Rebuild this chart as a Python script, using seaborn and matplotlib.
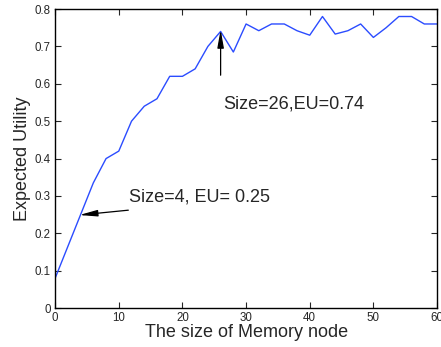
import matplotlib
matplotlib.use("Agg")
import pandas as pd
import seaborn as sns
import matplotlib.pyplot as plt

# Expected utility vs memory node size
sizes = [0, 2, 4, 6, 8, 10, 12, 14, 16, 18, 20, 22, 24, 26, 28, 30,
         32, 34, 36, 38, 40, 42, 44, 46, 48, 50, 52, 54, 56, 58, 60]
utility = [0.08, 0.165, 0.25, 0.335, 0.40, 0.42, 0.50, 0.54, 0.56, 0.62, 0.62,
           0.64, 0.70, 0.74, 0.685, 0.76, 0.742, 0.76, 0.76, 0.742, 0.73,
           0.78, 0.733, 0.742, 0.76, 0.724, 0.75, 0.78, 0.78, 0.76, 0.76]

df = pd.DataFrame({"size": sizes, "eu": utility})

sns.set_style("ticks")
plt.rcParams['font.family'] = ['Liberation Sans', 'DejaVu Sans']

fig = plt.figure(figsize=(4.41, 3.47), dpi=100)
ax = fig.add_axes([0.125, 0.112, 0.866, 0.862])

sns.lineplot(data=df, x="size", y="eu", ax=ax, color="#2b4cff", linewidth=1.0)

ax.set_xlim(0, 60)
ax.set_ylim(0, 0.8)
ax.set_xticks([0, 10, 20, 30, 40, 50, 60])
ax.set_yticks([0, 0.1, 0.2, 0.3, 0.4, 0.5, 0.6, 0.7, 0.8])
ax.set_yticklabels(["0", "0.1", "0.2", "0.3", "0.4", "0.5", "0.6", "0.7", "0.8"])
ax.tick_params(direction="in", top=True, right=True, labelsize=8.3, length=4, width=0.8, pad=3)
for s in ax.spines.values():
    s.set_linewidth(1.0)
    s.set_color("black")

ax.set_xlabel("The size of Memory node", fontsize=13, labelpad=0)
ax.set_ylabel("Expected Utility", fontsize=13, labelpad=3)

# Annotations
arrow = dict(arrowstyle="-|>,head_width=0.16,head_length=0.9",
             color="black", lw=0.9, shrinkA=0, shrinkB=0, mutation_scale=12)
ax.annotate("", xy=(26, 0.745), xytext=(26, 0.623), arrowprops=arrow)
ax.text(26.4, 0.545, "Size=26,EU=0.74", fontsize=13, ha="left", va="center")

ax.annotate("", xy=(3.8, 0.249), xytext=(11.5, 0.262), arrowprops=arrow)
ax.text(11.6, 0.297, "Size=4, EU= 0.25", fontsize=13, ha="left", va="center")

fig.savefig("out.png", dpi=100)
